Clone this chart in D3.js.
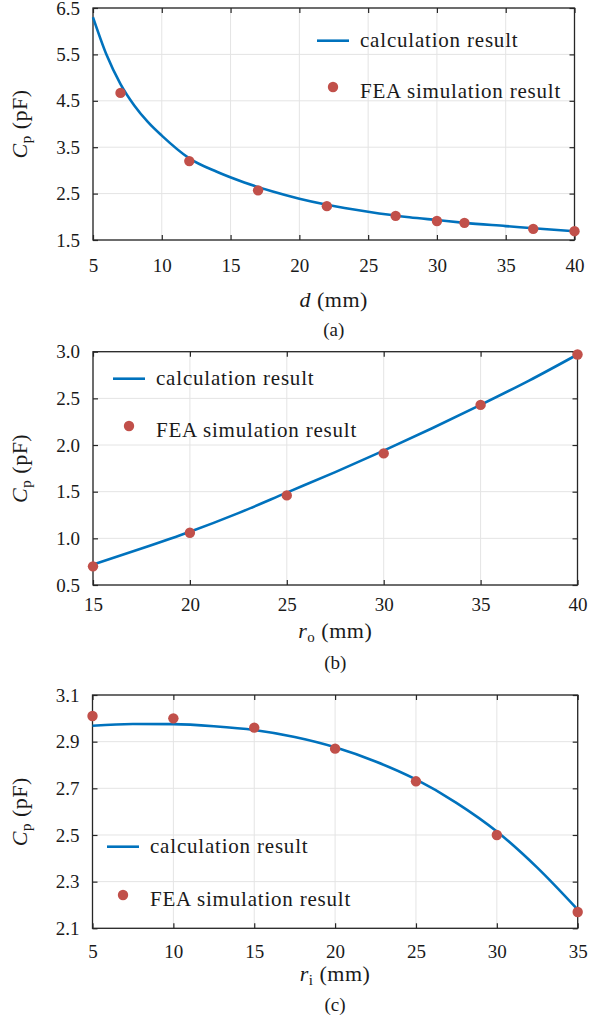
<!DOCTYPE html>
<html><head><meta charset="utf-8">
<script src="https://cdn.jsdelivr.net/npm/d3@7"></script>
</head><body style="margin:0">
<svg id="fig" width="589" height="1025"></svg>
<script>
// (a) Cp versus electrode distance d
const dCalc   = [5, 6, 7, 8, 9, 10, 12, 14, 16, 18, 20, 22, 25, 28, 30, 32, 35, 38, 40];
const cpCalcD = [6.30, 5.48, 4.86, 4.40, 4.04, 3.75, 3.26, 2.97, 2.74, 2.55, 2.39, 2.26, 2.11, 1.99, 1.93, 1.87, 1.80, 1.73, 1.69];
const dFea    = [7, 12, 17, 22, 27, 30, 32, 37, 40];
const cpFeaD  = [4.67, 3.20, 2.57, 2.23, 2.02, 1.91, 1.87, 1.74, 1.69];
const dTicks  = [5, 10, 15, 20, 25, 30, 35, 40];
const cpTicksA = [1.5, 2.5, 3.5, 4.5, 5.5, 6.5];

// (b) Cp versus outer radius ro
const roCalc   = [15, 17.5, 20, 22.5, 25, 27.5, 30, 32.5, 35, 37.5, 40];
const cpCalcRo = [0.72, 0.89, 1.07, 1.27, 1.49, 1.71, 1.94, 2.18, 2.43, 2.69, 2.97];
const roFea    = [15, 20, 25, 30, 35, 40];
const cpFeaRo  = [0.70, 1.06, 1.46, 1.91, 2.43, 2.97];
const roTicks  = [15, 20, 25, 30, 35, 40];
const cpTicksB = [0.5, 1.0, 1.5, 2.0, 2.5, 3.0];

// (c) Cp versus inner radius ri
const riCalc   = [5, 7.5, 10, 12.5, 15, 17.5, 20, 22.5, 25, 27.5, 30, 32.5, 35];
const cpCalcRi = [2.968, 2.976, 2.975, 2.966, 2.950, 2.920, 2.876, 2.815, 2.738, 2.638, 2.515, 2.36, 2.18];
const riFea    = [5, 10, 15, 20, 25, 30, 35];
const cpFeaRi  = [3.01, 3.00, 2.96, 2.87, 2.73, 2.50, 2.17];
const riTicks  = [5, 10, 15, 20, 25, 30, 35];
const cpTicksC = [2.1, 2.3, 2.5, 2.7, 2.9, 3.1];

const legendLabels = ["calculation result", "FEA simulation result"];

// styling
const SERIF = '"Liberation Serif"';
const BLUE = "#0072bd";
const RED = "#c1504a";
const AXIS = "#262626";
const GRID = "#e4e4e4";
const TEXT = "#1a1a1a";
const TICK_LEN = 5;

const svg = d3.select("#fig");
svg.append("rect").attr("width", 589).attr("height", 1025).attr("fill", "#ffffff");

function serifText(sel, size) {
  return sel.attr("font-size", size).style("font-family", SERIF).attr("fill", TEXT);
}

function panel(cfg) {
  const x = d3.scaleLinear().domain(d3.extent(cfg.xTicks)).range([cfg.left, cfg.right]);
  const y = d3.scaleLinear().domain(d3.extent(cfg.yTicks)).range([cfg.bottom, cfg.top]);

  // grid
  svg.append("g").selectAll("line").data(cfg.xTicks).join("line")
    .attr("x1", d => x(d)).attr("x2", d => x(d))
    .attr("y1", cfg.top).attr("y2", cfg.bottom)
    .attr("stroke", GRID).attr("stroke-width", 1);
  svg.append("g").selectAll("line").data(cfg.yTicks).join("line")
    .attr("y1", d => y(d)).attr("y2", d => y(d))
    .attr("x1", cfg.left).attr("x2", cfg.right)
    .attr("stroke", GRID).attr("stroke-width", 1);

  // axes with inward ticks on all four sides
  const styleAxis = sel => {
    sel.select(".domain").remove();
    sel.selectAll(".tick line").attr("stroke", AXIS).attr("stroke-width", 1.2);
    sel.selectAll(".tick text").call(serifText, 19);
  };
  svg.append("g").attr("transform", `translate(0,${cfg.bottom})`)
    .call(d3.axisBottom(x).tickValues(cfg.xTicks).tickSize(-TICK_LEN).tickPadding(cfg.xPad).tickFormat(d3.format("d")))
    .call(styleAxis);
  svg.append("g").attr("transform", `translate(0,${cfg.top})`)
    .call(d3.axisTop(x).tickValues(cfg.xTicks).tickSize(-TICK_LEN).tickFormat(""))
    .call(styleAxis);
  svg.append("g").attr("transform", `translate(${cfg.left},0)`)
    .call(d3.axisLeft(y).tickValues(cfg.yTicks).tickSize(-TICK_LEN).tickPadding(13).tickFormat(d3.format(".1f")))
    .call(styleAxis);
  svg.append("g").attr("transform", `translate(${cfg.right},0)`)
    .call(d3.axisRight(y).tickValues(cfg.yTicks).tickSize(-TICK_LEN).tickFormat(""))
    .call(styleAxis);

  // frame
  svg.append("rect")
    .attr("x", cfg.left).attr("y", cfg.top)
    .attr("width", cfg.right - cfg.left).attr("height", cfg.bottom - cfg.top)
    .attr("fill", "none").attr("stroke", AXIS).attr("stroke-width", 1.3);

  // calculated curve
  const line = d3.line().x(d => x(d[0])).y(d => y(d[1])).curve(d3.curveMonotoneX);
  svg.append("path")
    .datum(d3.zip(cfg.calcX, cfg.calcY))
    .attr("d", line)
    .attr("fill", "none").attr("stroke", BLUE).attr("stroke-width", 2.6)
    .attr("stroke-linejoin", "round");

  // FEA points
  svg.append("g").selectAll("circle").data(d3.zip(cfg.feaX, cfg.feaY)).join("circle")
    .attr("cx", d => x(d[0])).attr("cy", d => y(d[1])).attr("r", 5.2)
    .attr("fill", RED);

  // legend
  const L = cfg.legend;
  svg.append("line")
    .attr("x1", L.x).attr("x2", L.x + 32)
    .attr("y1", L.b1 - 6.3).attr("y2", L.b1 - 6.3)
    .attr("stroke", BLUE).attr("stroke-width", 2.6);
  svg.append("circle")
    .attr("cx", L.x + 16).attr("cy", L.b2 - 11).attr("r", 5.2).attr("fill", RED);
  legendLabels.forEach((lab, i) => {
    svg.append("text")
      .attr("x", L.x + 43).attr("y", i === 0 ? L.b1 : L.b2)
      .call(serifText, 21)
      .attr("letter-spacing", 0.8)
      .text(lab);
  });

  // x-axis title
  const cx = (cfg.left + cfg.right) / 2;
  const xt = svg.append("text")
    .attr("x", cx).attr("y", cfg.xTitleY)
    .attr("text-anchor", "middle")
    .call(serifText, 22)
    .attr("letter-spacing", 0.5);
  xt.append("tspan").attr("font-style", "italic").text(cfg.xVar);
  if (cfg.xSub) {
    xt.append("tspan").attr("font-size", 15).attr("dy", 4).text(cfg.xSub);
    xt.append("tspan").attr("dy", -4).text(" (mm)");
  } else {
    xt.append("tspan").text(" (mm)");
  }

  // y-axis title
  const cy = (cfg.top + cfg.bottom) / 2;
  const yt = svg.append("text")
    .attr("transform", `translate(27,${cy}) rotate(-90)`)
    .attr("text-anchor", "middle")
    .call(serifText, 22)
    .attr("letter-spacing", 0.5);
  yt.append("tspan").attr("font-style", "italic").text("C");
  yt.append("tspan").attr("font-size", 15).attr("dy", 4).text("p");
  yt.append("tspan").attr("dy", -4).text(" (pF)");

  // caption
  svg.append("text")
    .attr("x", cx).attr("y", cfg.captionY)
    .attr("text-anchor", "middle")
    .call(serifText, 19)
    .text(cfg.caption);
}

panel({
  left: 93, right: 574.5, top: 8, bottom: 240, xPad: 19,
  xTicks: dTicks, yTicks: cpTicksA,
  calcX: dCalc, calcY: cpCalcD, feaX: dFea, feaY: cpFeaD,
  legend: { x: 317, b1: 47, b2: 98 },
  xVar: "d", xSub: null, xTitleY: 307, captionY: 336, caption: "(a)"
});

panel({
  left: 93, right: 577.5, top: 351.7, bottom: 585, xPad: 13,
  xTicks: roTicks, yTicks: cpTicksB,
  calcX: roCalc, calcY: cpCalcRo, feaX: roFea, feaY: cpFeaRo,
  legend: { x: 113, b1: 385, b2: 437 },
  xVar: "r", xSub: "o", xTitleY: 638, captionY: 668.5, caption: "(b)"
});

panel({
  left: 92.5, right: 577.7, top: 695, bottom: 928.3, xPad: 16,
  xTicks: riTicks, yTicks: cpTicksC,
  calcX: riCalc, calcY: cpCalcRi, feaX: riFea, feaY: cpFeaRi,
  legend: { x: 107, b1: 853, b2: 906 },
  xVar: "r", xSub: "i", xTitleY: 981, captionY: 1011, caption: "(c)"
});
</script></body></html>
